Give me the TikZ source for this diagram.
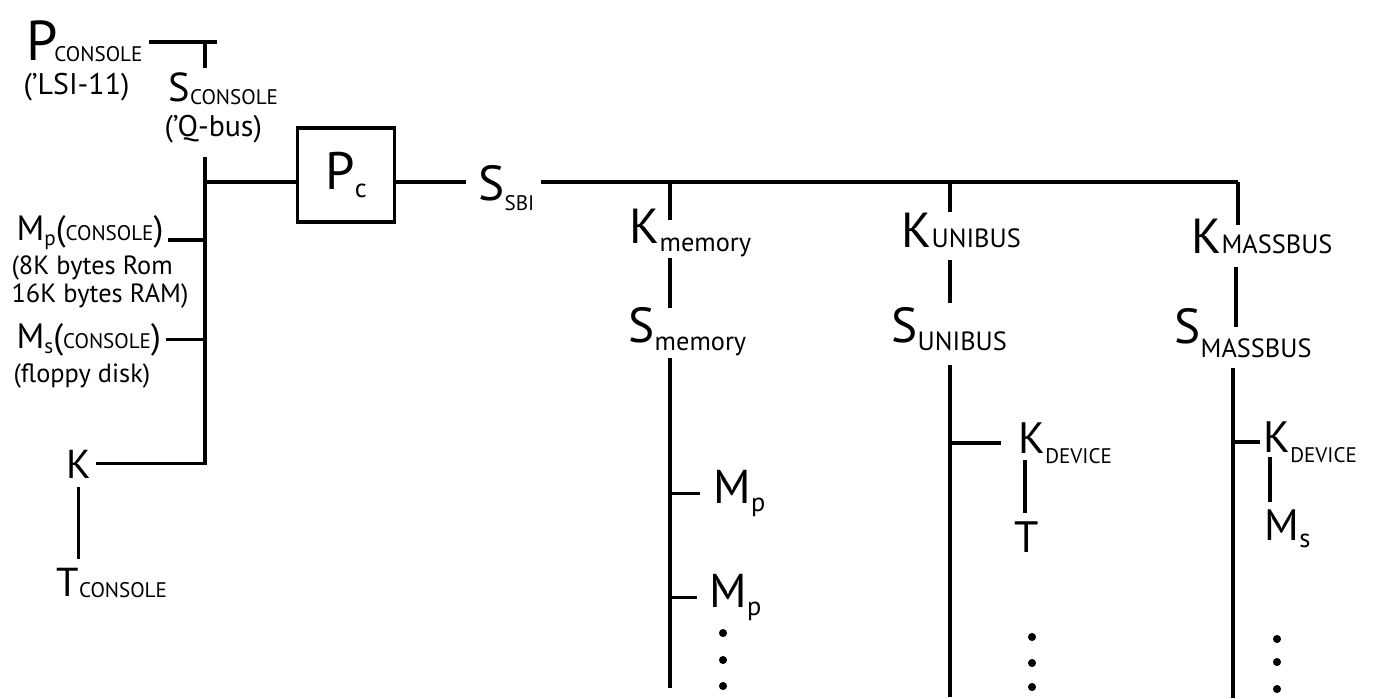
\documentclass[tikz,border=0pt]{standalone}
\usepackage{fontspec}
\setmainfont{PT Sans}
\usepackage{tikz}
\usetikzlibrary{positioning}

% subscript in small capitals / lowercase, set a little lower
\newcommand{\lo}[2][4pt]{\raisebox{-#1}{\fontsize{15}{15}\selectfont #2}}
\newcommand{\cn}[1]{{\fontsize{12}{12}\selectfont #1}}

\begin{document}
\begin{tikzpicture}[x=0.02cm,y=-0.02cm,line width=1.8pt,
  lbl/.style={inner sep=0pt,anchor=base west,font=\fontsize{28}{30}\selectfont},
  smlbl/.style={lbl,font=\fontsize{23}{25}\selectfont},
  note/.style={inner sep=0pt,anchor=north west,align=left,font=\fontsize{15}{16}\selectfont},
  pbox/.style={draw,minimum width=1.94cm,minimum height=1.88cm,font=\fontsize{30}{32}\selectfont}]
\useasboundingbox (0,0) rectangle (1381,698);

% console side
\node[lbl,font=\fontsize{32}{34}\selectfont] (pcon) at (25,60) {P\kern-2pt\lo[1pt]{\cn{CONSOLE}}};
\node[note,font=\fontsize{17}{18}\selectfont] (lsi) at (22,72) {('LSI-11)};
\node[smlbl] (scon) at (167,101) {S\lo[2pt]{\cn{CONSOLE}}};
\node[note,font=\fontsize{17}{18}\selectfont] (qbus) at (163,114) {('Q-bus)};
\node[lbl,font=\fontsize{20}{22}\selectfont] (mpc) at (15,240) {M\lo[3pt]{\cn{p}}(\cn{CONSOLE})};
\node[note] (mpnote) at (10,254) {(8K bytes Rom\\16K bytes RAM)};
\node[lbl,font=\fontsize{20}{22}\selectfont] (msc) at (15,348) {M\lo[3pt]{\cn{s}}(\cn{CONSOLE})};
\node[note] (floppy) at (12,362) {(floppy disk)};
\node[smlbl] (k) at (65,478) {K};
\node[smlbl] (tcon) at (55,596) {T\lo[1pt]{\cn{CONSOLE}}};

\coordinate (ptick) at (205,42);
\coordinate (pend) at (217,42);
\coordinate (stick) at (205,68);
\coordinate (cbtop) at (205,157);

\draw ([xshift=3pt]pcon.east |- pend) -- (pend);
\draw (ptick) -- (stick);
\draw (cbtop) |- ([xshift=2pt]k.east);
\draw ([xshift=2pt]mpc.base east) -- (mpc.base east -| cbtop);
\draw ([xshift=2pt]msc.east) -- (msc.east -| cbtop);
\draw ([yshift=-4pt]k.south) -- ([yshift=4pt]tcon.north -| k.south);

% processor and SBI
\node[pbox] (pc) at (346,175) {P\lo[5pt]{c}};
\node[lbl] (ssbi) at (477,200) {S\lo[6pt]{\cn{SBI}}};
\coordinate (bend) at (1238,182);

\draw (pc.west |- bend) -- (bend -| cbtop);
\draw (pc.east |- bend) -- ([xshift=-6pt]ssbi.west |- bend);
\draw ([xshift=3pt]ssbi.east |- bend) -- (bend);

% memory
\node[lbl] (kmem) at (628,243) {K\lo[5pt]{memory}};
\node[lbl] (smem) at (627,342) {S\lo[5pt]{memory}};
\node[lbl,font=\fontsize{27}{29}\selectfont] (mp1) at (712,503) {M\lo[5pt]{p}};
\node[lbl,font=\fontsize{27}{29}\selectfont] (mp2) at (708,607) {M\lo[5pt]{p}};
\coordinate (mtop) at (670,182);
\coordinate (mk) at (670,220);
\coordinate (ma) at (670,258);
\coordinate (mb) at (670,308);
\coordinate (mc) at (670,358);
\coordinate (mbot) at (670,688);

\draw (mtop) -- (mk);
\draw (ma) -- (mb);
\draw (mc) -- (mbot);
\draw (mp1.west -| mc) -- ([xshift=-7pt]mp1.west);
\draw (mp2.west -| mc) -- ([xshift=-6pt]mp2.west);
\foreach \y in {633,660,686} \fill (723,\y) circle[radius=2.3pt];

% unibus
\node[lbl] (kuni) at (900,247) {K\lo[0pt]{UNIBUS}};
\node[lbl] (suni) at (890,342) {S\lo[5pt]{UNIBUS}};
\node[lbl,font=\fontsize{25}{27}\selectfont] (kd1) at (1017,453) {K\lo[6pt]{\cn{DEVICE}}};
\node[lbl,font=\fontsize{25}{27}\selectfont] (t) at (1013,552) {T};
\coordinate (utop) at (950,182);
\coordinate (uk) at (950,212);
\coordinate (ua) at (950,260);
\coordinate (ub) at (950,303);
\coordinate (uc) at (950,365);
\coordinate (ubot) at (950,697);

\draw (utop) -- (uk);
\draw (ua) -- (ub);
\draw (uc) -- (ubot);
\draw (kd1.west -| uc) -- ([xshift=-9pt]kd1.west);
\draw (1025,460) coordinate (ud) -- ([yshift=4pt]ud |- t.north);
\foreach \y in {637,663,687} \fill (1032,\y) circle[radius=2.3pt];

% massbus
\node[lbl] (kmas) at (1190,253) {K\lo[0pt]{MASSBUS}};
\node[lbl] (smas) at (1173,343) {S\lo[8pt]{MASSBUS}};
\node[lbl,font=\fontsize{25}{27}\selectfont] (kd2) at (1262,452) {K\lo[6pt]{\cn{DEVICE}}};
\node[lbl,font=\fontsize{25}{27}\selectfont] (ms) at (1263,540) {M\lo[4pt]{s}};
\coordinate (sk) at (1238,225);
\coordinate (sa) at (1236,267);
\coordinate (sb) at (1236,327);
\coordinate (sc) at (1233,368);
\coordinate (sbot) at (1233,698);

\draw (bend) -- (sk);
\draw (sa) -- (sb);
\draw (sc) -- (sbot);
\draw (kd2.west -| sc) -- ([xshift=-1pt]kd2.west);
\draw (1270,457) coordinate (sd) -- ([yshift=3pt]sd |- ms.north);
\foreach \y in {639,662,689} \fill (1277,\y) circle[radius=2.3pt];
\end{tikzpicture}
\end{document}
